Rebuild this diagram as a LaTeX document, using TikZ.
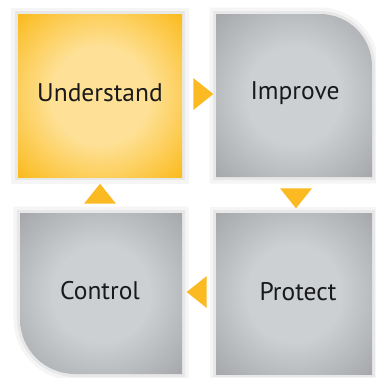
\documentclass[tikz,border=0pt]{standalone}
\usepackage{fontspec}
\setmainfont{PT Sans}
\usetikzlibrary{shapes.geometric}

\definecolor{boxyellow}{HTML}{FBBB1F}
\definecolor{glowyellow}{HTML}{FEE196}
\definecolor{boxgrey}{HTML}{A6A8AB}
\definecolor{glowgrey}{HTML}{CCD0D3}
\definecolor{arrowyellow}{HTML}{FCBA22}
\definecolor{frameinner}{HTML}{E8E8E9}
\definecolor{frameouter}{HTML}{F5F5F5}

\pgfdeclareradialshading{yellowglow}{\pgfpoint{0bp}{0bp}}{color(0bp)=(glowyellow); color(15bp)=(glowyellow); color(35bp)=(boxyellow); color(50bp)=(boxyellow)}
\pgfdeclareradialshading{greyglow}{\pgfpoint{0bp}{0bp}}{color(0bp)=(glowgrey); color(15bp)=(glowgrey); color(35bp)=(boxgrey); color(50bp)=(boxgrey)}

\tikzset{
  boxframe/.style={preaction={draw=frameouter, line width=13bp},
                   preaction={draw=frameinner, line width=6bp}},
  label/.style={font=\fontsize{25.5bp}{28bp}\selectfont, text=black!90},
  pointer/.style={isosceles triangle, isosceles triangle stretches, fill=arrowyellow,
                  inner sep=0pt, minimum height=20bp, minimum width=32bp},
}

\begin{document}
\begin{tikzpicture}[x=1bp, y=-1bp]
    \useasboundingbox (0,0) rectangle (376,378);

    % The four boxes
    \shade[boxframe, shading=yellowglow] (18,14) rectangle (182,177);
    \shade[boxframe, shading=greyglow] (216,14) -- (320,14)
        arc[start angle=-90, end angle=0, radius=52] -- (372,177) -- (216,177) -- cycle;
    \shade[boxframe, shading=greyglow] (216,213) rectangle (372,374);
    \shade[boxframe, shading=greyglow] (20,213) -- (182,213) -- (182,374) -- (75,374)
        arc[start angle=90, end angle=180, radius=55] -- cycle;

    % Labels
    \node[label] (understand) at (100,93) {Understand};
    \node[label] (improve) at (295,93) {Improve};
    \node[label] (protect) at (298,292) {Protect};
    \node[label] (control) at (100,291) {Control};

    % The pointers between the boxes
    \node[pointer, shape border rotate=0] (toimprove) at (201,94) {};
    \node[pointer, shape border rotate=-90] (toprotect) at (296,196) {};
    \node[pointer, shape border rotate=180] (tocontrol) at (199,292) {};
    \node[pointer, shape border rotate=90] (tounderstand) at (100,196) {};

\end{tikzpicture}
\end{document}
